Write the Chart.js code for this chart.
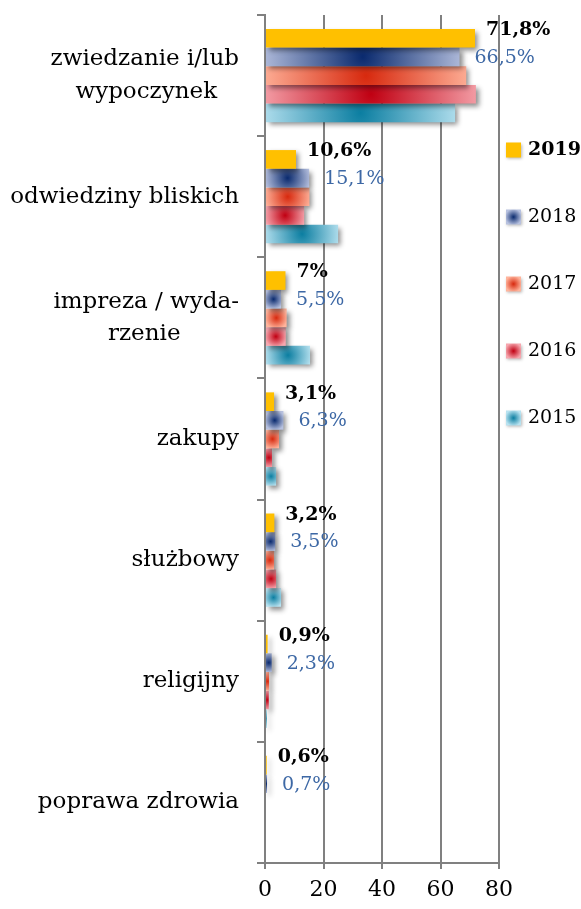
<!DOCTYPE html>
<html><head><meta charset="utf-8">
<script src="https://cdn.jsdelivr.net/npm/chart.js@4/dist/chart.umd.min.js"></script>
<style>html,body{margin:0;padding:0;background:#fff;}#wrap{width:581px;height:909px;}</style>
</head><body><div id="wrap"><canvas id="c" width="581" height="909"></canvas></div>
<script>
const categories = [
  ['zwiedzanie i/lub', 'wypoczynek'],
  'odwiedziny bliskich',
  ['impreza / wyda-', 'rzenie'],
  'zakupy',
  'służbowy',
  'religijny',
  'poprawa zdrowia'
];
const years = ['2019', '2018', '2017', '2016', '2015'];
const values2019 = [71.8, 10.6, 7, 3.1, 3.2, 0.9, 0.6];
const values2018 = [66.5, 15.1, 5.5, 6.3, 3.5, 2.3, 0.7];
const values2017 = [68.8, 15.2, 7.4, 4.8, 3.1, 1.4, 0];
const values2016 = [72.1, 13.4, 7.1, 2.4, 3.8, 1.3, 0];
const values2015 = [65.0, 25.0, 15.4, 3.8, 5.5, 0.6, 0];
const xTickValues = [0, 20, 40, 60, 80];

const FONT = '"DejaVu Serif", "Liberation Serif", serif';
const LABEL_SIZE = 23;
const palette = [
  ['#FFC000', '#FFC000'],
  ['#0a2a6e', '#b7c1df'],
  ['#d7290e', '#ffb49c'],
  ['#c00012', '#f6a6ae'],
  ['#0b7ea1', '#b8e2f0']
];

function centerBlock(lines) {
  const c = document.createElement('canvas').getContext('2d');
  c.font = LABEL_SIZE + 'px ' + FONT;
  const ws = lines.map(l => c.measureText(l).width);
  const W = Math.max(...ws);
  const sp = c.measureText('\u00a0').width;
  return lines.map((l, i) => l + '\u00a0'.repeat(Math.round((W - ws[i]) / 2 / sp)));
}
const yLabels = categories.map(c => Array.isArray(c) ? centerBlock(c) : c);

function grad(ctx, cx, cy, hw, hh, pal) {
  const r = Math.max(hw, hh) * 1.08;
  const g = ctx.createRadialGradient(cx, cy, 0, cx, cy, r);
  g.addColorStop(0, pal[0]);
  g.addColorStop(1, pal[1]);
  return g;
}
function barFill(di) {
  return (context) => {
    const pal = palette[di];
    if (di === 0) return pal[0];
    const el = context.element;
    if (!el || !isFinite(el.x) || !isFinite(el.base) || !isFinite(el.height)) return pal[0];
    const x0 = Math.min(el.x, el.base), x1 = Math.max(el.x, el.base);
    return grad(context.chart.ctx, (x0 + x1) / 2, el.y, (x1 - x0) / 2, el.height / 2, pal);
  };
}

const seriesValues = [values2019, values2018, values2017, values2016, values2015];
const datasets = years.map((y, i) => ({
  label: y,
  data: seriesValues[i],
  backgroundColor: barFill(i),
  borderWidth: 0,
  barPercentage: 1,
  categoryPercentage: 0.77
}));

const fmt = v => String(v).replace('.', ',') + '%';

const shadowPlugin = {
  id: 'shadow',
  beforeDatasetsDraw(chart) {
    const c = chart.ctx;
    c.save();
    c.shadowColor = 'rgba(0,0,0,0.45)';
    c.shadowBlur = 5;
    c.shadowOffsetX = 3;
    c.shadowOffsetY = 3;
  },
  afterDatasetsDraw(chart) { chart.ctx.restore(); }
};

const labelPlugin = {
  id: 'vals',
  afterDatasetsDraw(chart) {
    const ctx = chart.ctx;
    const specs = [
      [0, 'bold 19px ' + FONT, '#000000', 11, -8],
      [1, '19px ' + FONT, '#3d68a5', 15, 1]
    ];
    specs.forEach(([di, font, color, dx, dy]) => {
      const meta = chart.getDatasetMeta(di);
      const data = chart.data.datasets[di].data;
      meta.data.forEach((el, i) => {
        ctx.save();
        ctx.font = font;
        ctx.fillStyle = color;
        ctx.textAlign = 'left';
        ctx.textBaseline = 'middle';
        ctx.fillText(fmt(data[i]), el.x + dx, el.y + dy);
        ctx.restore();
      });
    });
  }
};

const legendPlugin = {
  id: 'sideLegend',
  afterDraw(chart) {
    const ctx = chart.ctx;
    const area = chart.chartArea;
    chart.data.datasets.forEach((ds, i) => {
      const cy = 150 + i * 67;
      const bx = area.right + 7, s = 15;
      ctx.save();
      ctx.fillStyle = i === 0 ? palette[0][0] : grad(ctx, bx + s / 2, cy, s / 2, s / 2, palette[i]);
      ctx.shadowColor = 'rgba(0,0,0,0.3)';
      ctx.shadowBlur = 3;
      ctx.shadowOffsetX = 1;
      ctx.shadowOffsetY = 1;
      ctx.fillRect(bx, cy - s / 2, s, s);
      ctx.restore();
      ctx.save();
      ctx.font = (i === 0 ? 'bold ' : '') + '19px ' + FONT;
      ctx.fillStyle = '#000';
      ctx.textAlign = 'left';
      ctx.textBaseline = 'middle';
      ctx.fillText(ds.label, bx + 22, cy);
      ctx.restore();
    });
  }
};

const chart = new Chart(document.getElementById('c'), {
  type: 'bar',
  data: { labels: yLabels, datasets },
  options: {
    indexAxis: 'y',
    responsive: false,
    animation: false,
    devicePixelRatio: 1,
    layout: { padding: { top: 15, right: 82, bottom: 0, left: 0 } },
    plugins: { legend: { display: false }, tooltip: { enabled: false } },
    scales: {
      y: {
        type: 'category',
        grid: { drawOnChartArea: false, drawTicks: true, tickLength: 8, color: '#808080', lineWidth: 2, offset: true },
        border: { display: true, color: '#808080', width: 2 },
        ticks: { color: '#000', font: { family: FONT, size: LABEL_SIZE, lineHeight: 1.4 }, padding: 18, crossAlign: 'near' },
        afterFit: s => { s.width = 265; s.paddingTop = 0; s.paddingBottom = 0; }
      },
      x: {
        type: 'linear',
        min: 0, max: 80,
        afterBuildTicks: s => { s.ticks = xTickValues.map(v => ({ value: v })); },
        grid: { color: '#808080', lineWidth: 2, tickLength: 6, drawTicks: true },
        border: { display: true, color: '#808080', width: 2 },
        ticks: { color: '#000', font: { family: FONT, size: 22 }, padding: 8 },
        afterFit: s => { s.height = 46; s.paddingLeft = 0; s.paddingRight = 0; }
      }
    }
  },
  plugins: [shadowPlugin, labelPlugin, legendPlugin]
});
chart.update();
</script></body></html>
